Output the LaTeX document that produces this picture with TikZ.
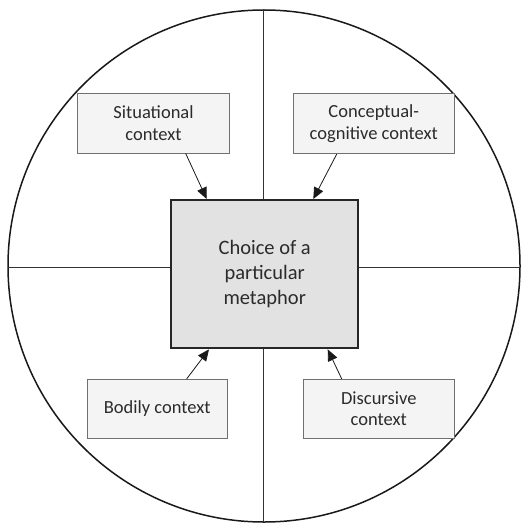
\documentclass[tikz,border=0pt]{standalone}
\usepackage{fontspec}
\setmainfont{Carlito}
\usetikzlibrary{arrows.meta}
\definecolor{boxfill}{HTML}{F4F4F4}
\definecolor{midfill}{HTML}{E2E2E2}
\definecolor{boxline}{HTML}{707070}
\definecolor{txt}{HTML}{2B2B2B}
\begin{document}
\begin{tikzpicture}[x=1pt,y=-1pt,
  ctxbox/.style={draw=boxline,line width=0.9pt,fill=boxfill,inner sep=0pt,align=center,
    text=txt,font=\fontsize{18.5}{21.7}\selectfont},
  midbox/.style={draw=black!85,line width=2pt,fill=midfill,inner sep=0pt,align=center,
    text=txt,font=\fontsize{20.5}{25}\selectfont,minimum width=186.7pt,minimum height=148.3pt},
  arr/.style={-{Triangle[length=11.5pt,width=10pt]},line width=0.8pt,draw=black!90},
  divline/.style={line width=0.9pt,draw=black!80}]
\useasboundingbox (0,0) rectangle (524,524);
\draw[line width=1.5pt,draw=black!90] (264,266) circle[radius=256];
\node[midbox] (mid) at (264.7,274.2) {Choice of a\\particular\\metaphor};
\node[ctxbox,minimum width=151.6pt,minimum height=59.7pt] (sit) at (153.5,123.2) {Situational\\context};
\node[ctxbox,minimum width=160.3pt,minimum height=60.4pt] (con) at (373.8,123.5) {Conceptual-\\cognitive context};
\node[ctxbox,minimum width=140.7pt,minimum height=59pt] (bod) at (157.3,408.8) {Bodily context};
\node[ctxbox,minimum width=150.3pt,minimum height=59pt] (dis) at (378.8,408.8) {Discursive\\context};
\coordinate (ctop) at (263,10);
\coordinate (cbot) at (263,522);
\coordinate (cleft) at (8,267);
\coordinate (cright) at (520,267);
\draw[divline] (ctop) -- (ctop |- mid.north);
\draw[divline] (mid.south -| cbot) -- (cbot);
\draw[divline] (cleft) -- (cleft -| mid.west);
\draw[divline] (mid.east |- cright) -- (cright);
\draw[arr] ([xshift=32.2pt]sit.south) -- ([xshift=-58pt]mid.north);
\draw[arr] ([xshift=-37.1pt]con.south) -- ([xshift=48.6pt]mid.north);
\draw[arr] ([xshift=29.4pt]bod.north) -- ([xshift=-55.7pt]mid.south);
\draw[arr] ([xshift=-37.1pt]dis.north) -- ([xshift=63pt]mid.south);
\end{tikzpicture}
\end{document}
